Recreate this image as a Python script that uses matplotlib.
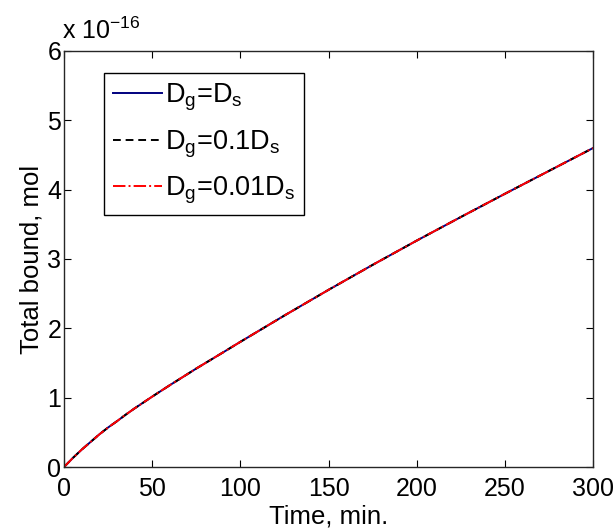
import matplotlib.pyplot as plt

plt.rcParams['font.family'] = ['Liberation Sans', 'DejaVu Sans']
plt.rcParams['mathtext.fontset'] = 'custom'
plt.rcParams['mathtext.rm'] = 'Liberation Sans'
plt.rcParams['mathtext.it'] = 'Liberation Sans'

# Time in minutes, total bound in units of 1e-16 mol
time = [0, 5, 10, 15, 20, 25, 30, 35, 40, 50, 60, 75, 90, 100, 125, 150, 175, 200, 225, 250, 275, 300]
bound_ds = [0, 0.13, 0.25, 0.36, 0.47, 0.57, 0.66, 0.755, 0.845, 1.015, 1.18, 1.42, 1.65, 1.805, 2.185,
            2.555, 2.915, 3.265, 3.605, 3.94, 4.27, 4.60]
bound_01ds = [0, 0.13, 0.25, 0.36, 0.47, 0.57, 0.66, 0.755, 0.845, 1.015, 1.18, 1.42, 1.65, 1.805, 2.185,
              2.555, 2.915, 3.265, 3.605, 3.94, 4.27, 4.60]
bound_001ds = [0, 0.13, 0.25, 0.36, 0.47, 0.57, 0.66, 0.755, 0.845, 1.015, 1.18, 1.42, 1.65, 1.805, 2.185,
               2.555, 2.915, 3.265, 3.605, 3.94, 4.27, 4.60]

x_ticks = [0, 50, 100, 150, 200, 250, 300]
y_ticks = [0, 1, 2, 3, 4, 5, 6]

fig = plt.figure(figsize=(6.16, 5.31), dpi=100)
ax = fig.add_axes([0.1039, 0.1205, 0.8588, 0.7835])

ax.plot(time, bound_ds, color='#00007f', lw=1.4, label=r'D$_\mathregular{g}$=D$_\mathregular{s}$')
ax.plot(time, bound_01ds, color='black', lw=1.4, ls='--', dashes=(4, 2.5),
        label=r'D$_\mathregular{g}$=0.1D$_\mathregular{s}$')
ax.plot(time, bound_001ds, color='red', lw=1.4, ls='-.',
        label=r'D$_\mathregular{g}$=0.01D$_\mathregular{s}$')

ax.set_xlim(0, 300)
ax.set_ylim(0, 6)
ax.set_xticks(x_ticks)
ax.set_yticks(y_ticks)
ax.tick_params(direction='in', top=True, right=True, labelsize=18, length=5, width=0.8)
ax.tick_params(axis='x', pad=7)
ax.tick_params(axis='y', pad=2)
for s in ax.spines.values():
    s.set_linewidth(1.0)
    s.set_color('#262626')

ax.set_xlabel('Time, min.', fontsize=18.5, labelpad=3)
ax.set_ylabel('Total bound, mol', fontsize=18.5, labelpad=3)
ax.text(-0.004, 1.016, r'x 10$^{-16}$', transform=ax.transAxes, fontsize=18, va='bottom', ha='left')

leg = ax.legend(loc='upper left', bbox_to_anchor=(0.075, 0.948), fontsize=19.5,
                fancybox=False, framealpha=1, edgecolor='black', handlelength=1.8,
                handletextpad=0.1, borderpad=0.35, labelspacing=0.55, borderaxespad=0)
leg.get_frame().set_linewidth(1.0)

fig.savefig('out.png', dpi=100)
